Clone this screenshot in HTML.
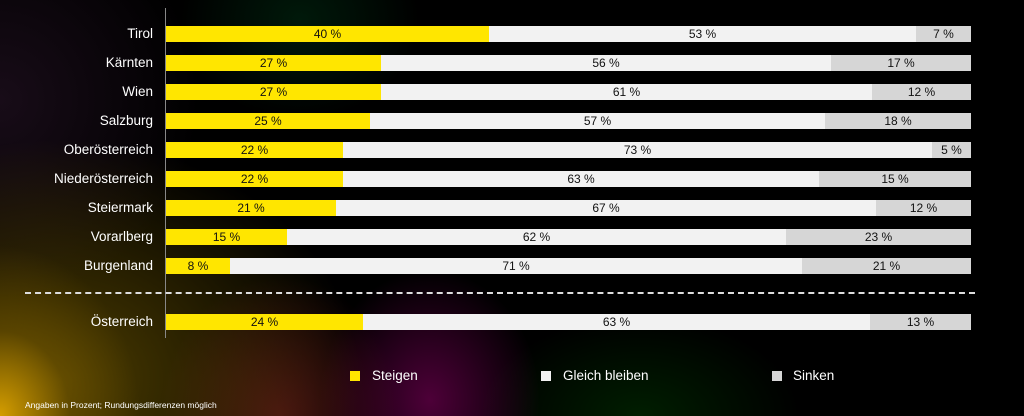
<!DOCTYPE html>
<html><head><meta charset="utf-8"><style>
body{margin:0;width:1024px;height:416px;overflow:hidden;font-family:"Liberation Sans",sans-serif;}
#bg{position:absolute;left:0;top:0;width:1024px;height:416px;background:
radial-gradient(ellipse 140px 170px at 0px 416px,rgba(230,170,0,0.9),rgba(120,90,0,0.5) 50%,transparent 100%),
radial-gradient(ellipse 300px 240px at 60px 380px,rgba(120,95,0,0.65),transparent 100%),
radial-gradient(ellipse 120px 140px at 280px 416px,rgba(110,20,30,0.6),transparent 100%),
radial-gradient(ellipse 110px 130px at 430px 400px,rgba(110,0,80,0.7),transparent 100%),
radial-gradient(ellipse 160px 100px at 640px 416px,rgba(0,50,0,0.6),transparent 100%),
radial-gradient(ellipse 120px 100px at 300px 20px,rgba(0,50,20,0.5),transparent 100%),
radial-gradient(ellipse 200px 200px at 0px 100px,rgba(40,20,40,0.6),transparent 100%),
#000;}
.lab{position:absolute;right:871px;color:#fff;font-size:13.5px;line-height:16px;white-space:nowrap}
.bar{position:absolute;left:166px;width:805px;height:16px;display:flex;font-size:12px;line-height:16px;color:#111}
.bar div{text-align:center;overflow:hidden}
.y{background:#ffe600}.w{background:#f2f2f2}.g{background:#d6d6d6}
.axis{position:absolute;left:165px;top:8px;width:1px;height:330px;background:#888}
.dash{position:absolute;left:25px;top:292px;width:950px;height:0;border-top:2px dashed #ddd}
.leg{position:absolute;top:367px;color:#fff;font-size:13.5px;line-height:18px}
.sq{position:absolute;top:371px;width:10px;height:10px}
</style></head><body><div id="bg"></div>
<div class="axis"></div>
<div class="dash"></div>
<div class="lab" style="top:26px">Tirol</div>
<div class="bar" style="top:26px"><div class="y" style="flex:323">40 %</div><div class="w" style="flex:427">53 %</div><div class="g" style="flex:55">7 %</div></div>
<div class="lab" style="top:55px">Kärnten</div>
<div class="bar" style="top:55px"><div class="y" style="flex:215">27 %</div><div class="w" style="flex:450">56 %</div><div class="g" style="flex:140">17 %</div></div>
<div class="lab" style="top:84px">Wien</div>
<div class="bar" style="top:84px"><div class="y" style="flex:215">27 %</div><div class="w" style="flex:491">61 %</div><div class="g" style="flex:99">12 %</div></div>
<div class="lab" style="top:113px">Salzburg</div>
<div class="bar" style="top:113px"><div class="y" style="flex:204">25 %</div><div class="w" style="flex:455">57 %</div><div class="g" style="flex:146">18 %</div></div>
<div class="lab" style="top:142px">Oberösterreich</div>
<div class="bar" style="top:142px"><div class="y" style="flex:177">22 %</div><div class="w" style="flex:589">73 %</div><div class="g" style="flex:39">5 %</div></div>
<div class="lab" style="top:171px">Niederösterreich</div>
<div class="bar" style="top:171px"><div class="y" style="flex:177">22 %</div><div class="w" style="flex:476">63 %</div><div class="g" style="flex:152">15 %</div></div>
<div class="lab" style="top:200px">Steiermark</div>
<div class="bar" style="top:200px"><div class="y" style="flex:170">21 %</div><div class="w" style="flex:540">67 %</div><div class="g" style="flex:95">12 %</div></div>
<div class="lab" style="top:229px">Vorarlberg</div>
<div class="bar" style="top:229px"><div class="y" style="flex:121">15 %</div><div class="w" style="flex:499">62 %</div><div class="g" style="flex:185">23 %</div></div>
<div class="lab" style="top:258px">Burgenland</div>
<div class="bar" style="top:258px"><div class="y" style="flex:64">8 %</div><div class="w" style="flex:572">71 %</div><div class="g" style="flex:169">21 %</div></div>
<div class="lab" style="top:314px">Österreich</div>
<div class="bar" style="top:314px"><div class="y" style="flex:197">24 %</div><div class="w" style="flex:507">63 %</div><div class="g" style="flex:101">13 %</div></div>
<div class="sq y" style="left:350px"></div><div class="leg" style="left:372px">Steigen</div>
<div class="sq w" style="left:541px"></div><div class="leg" style="left:563px">Gleich bleiben</div>
<div class="sq g" style="left:772px"></div><div class="leg" style="left:793px">Sinken</div>
<div style="position:absolute;left:25px;top:400px;color:#fff;font-size:8.5px">Angaben in Prozent; Rundungsdifferenzen möglich</div>
</body></html>
